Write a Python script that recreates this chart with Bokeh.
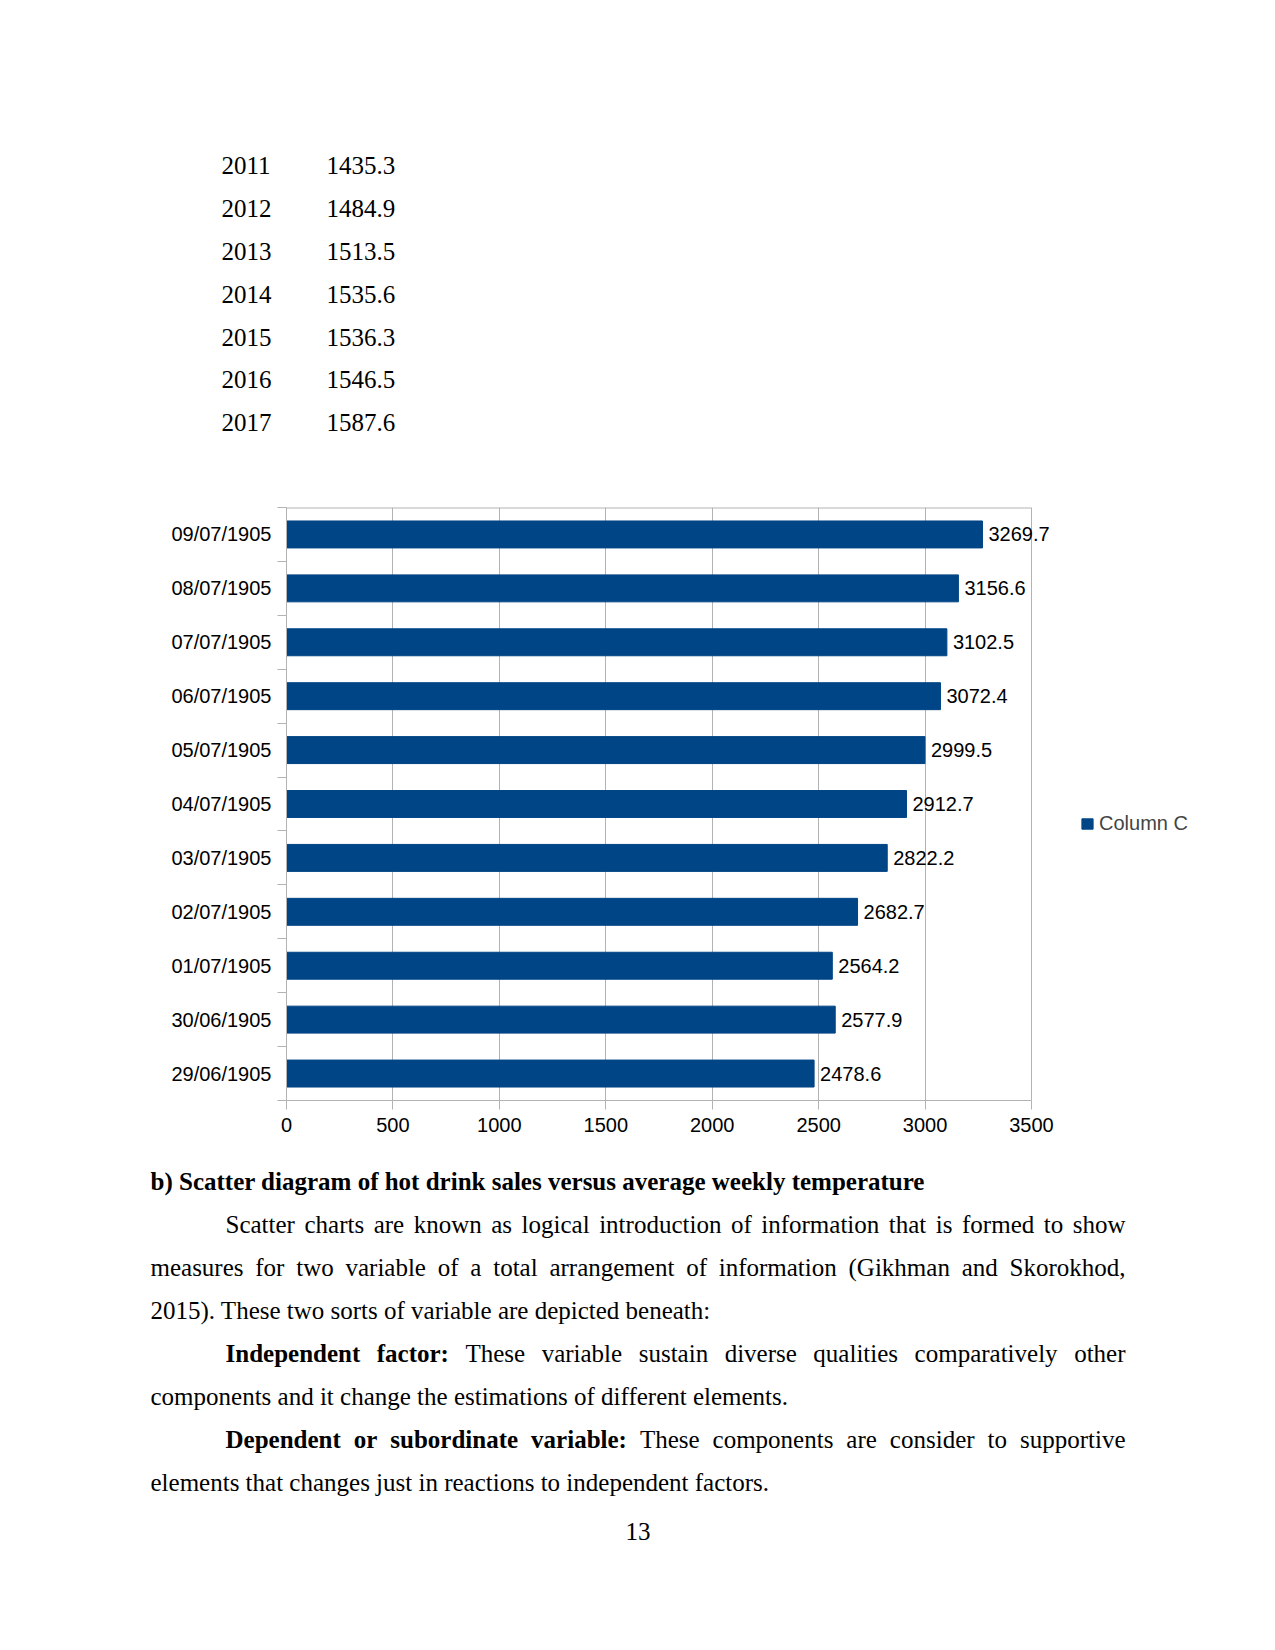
from bokeh.plotting import figure
from bokeh.models import (Range1d, FixedTicker, ColumnDataSource, LabelSet,
                          Legend, LegendItem)
from bokeh.embed import file_html
from bokeh.resources import INLINE
from bokeh.core.properties import value

# ---------------- data ----------------
table_years = ["2011", "2012", "2013", "2014", "2015", "2016", "2017"]
table_values = [1435.3, 1484.9, 1513.5, 1535.6, 1536.3, 1546.5, 1587.6]

dates = ["29/06/1905", "30/06/1905", "01/07/1905", "02/07/1905", "03/07/1905",
         "04/07/1905", "05/07/1905", "06/07/1905", "07/07/1905", "08/07/1905",
         "09/07/1905"]
sales = [2478.6, 2577.9, 2564.2, 2682.7, 2822.2, 2912.7, 2999.5, 3072.4,
         3102.5, 3156.6, 3269.7]
x_ticks = [0, 500, 1000, 1500, 2000, 2500, 3000, 3500]
series_name = "Column C"

heading = "b) Scatter diagram of hot drink sales versus average weekly temperature"
para_lines = [
    # (indent?, justified?, [(text, bold)])
    (True, True, [("Scatter charts are known as logical introduction of information that is formed to show", False)]),
    (False, True, [("measures for two variable of a total arrangement of information (Gikhman and Skorokhod,", False)]),
    (False, False, [("2015). These two sorts of variable are depicted beneath:", False)]),
    (True, True, [("Independent factor:", True), ("These variable sustain diverse qualities comparatively other", False)]),
    (False, False, [("components and it change the estimations of different elements.", False)]),
    (True, True, [("Dependent or subordinate variable:", True), ("These components are consider to supportive", False)]),
    (False, False, [("elements that changes just in reactions to independent factors.", False)]),
]
page_number = "13"

# ---------------- style / layout constants ----------------
BAR = "#004586"
GRID = "#b3b3b3"
SERIF = "Liberation Serif"
SANS = "Liberation Sans"
FS = 25          # body font size (px)
CW = 1259        # canvas width
LEFT, RIGHT, INDENT = 150, 1125, 225
LINE = 43.07

# approximate Times New Roman advance widths (em) for justification
REG_W = dict(zip("abcdefghijklmnopqrstuvwxyz",
                 [.444, .5, .444, .5, .444, .333, .5, .5, .278, .278, .5, .278, .778,
                  .5, .5, .5, .5, .333, .389, .278, .5, .5, .722, .5, .5, .444]))
REG_W.update(dict(zip("ABCDEFGHIJKLMNOPQRSTUVWXYZ",
                      [.722, .667, .667, .722, .611, .556, .722, .722, .333, .389, .722,
                       .611, .889, .722, .722, .556, .722, .667, .556, .611, .722, .722,
                       .944, .722, .722, .611])))
REG_W.update({" ": .25, ",": .25, ".": .25, ":": .278, "(": .333, ")": .333})
BOLD_W = dict(zip("abcdefghijklmnopqrstuvwxyz",
                  [.5, .556, .444, .556, .444, .333, .5, .556, .278, .333, .556, .278, .833,
                   .556, .5, .556, .556, .444, .389, .333, .556, .5, .722, .5, .5, .444]))
BOLD_W.update({"D": .722, "I": .389, " ": .25, ":": .333})


def tw(word, bold):
    tbl = BOLD_W if bold else REG_W
    return sum(tbl.get(c, 0.5) for c in word) * FS


def text_fig(y_top, height):
    f = figure(width=CW, height=height, x_range=Range1d(0, CW),
               y_range=Range1d(y_top + height, y_top), output_backend="svg",
               toolbar_location=None, x_axis_type=None, y_axis_type=None,
               min_border=0, outline_line_color=None)
    f.xgrid.visible = False
    f.ygrid.visible = False
    return f


# ---------------- top: small table ----------------
top = text_fig(8, 452)
row_y = [173.3 + i * 42.8 for i in range(len(table_years))]
top.text(x=[221] * len(table_years), y=row_y, text=table_years,
         text_font=value(SERIF), text_font_size=f"{FS}px", text_color="black",
         text_baseline="alphabetic", text_align="left")
top.text(x=[326] * len(table_values), y=row_y,
         text=[f"{v:.1f}" for v in table_values],
         text_font=value(SERIF), text_font_size=f"{FS}px", text_color="black",
         text_baseline="alphabetic", text_align="left")

# ---------------- middle: bar chart ----------------
n = len(dates)
cats = list(range(n))
FRAME_L, AXIS_R, FRAME_R = 286, 1031, 1200       # page px
CHART_TOP, CHART_H = 452, 690                    # canvas placement on page
FRAME_T, FRAME_B = 507, 1100
x_max = x_ticks[-1]
x_end = x_max * (FRAME_R - FRAME_L) / (AXIS_R - FRAME_L)
p = figure(width=CW, height=CHART_H, x_range=Range1d(0, x_end),
           y_range=Range1d(-0.5, n - 0.5), output_backend="svg",
           toolbar_location=None, min_border_left=FRAME_L,
           min_border_right=CW - FRAME_R,
           min_border_top=FRAME_T - CHART_TOP,
           min_border_bottom=CHART_TOP + CHART_H - FRAME_B)
p.outline_line_color = None
src = ColumnDataSource(dict(y=cats, x=sales, label=[f"{v:.1f}" for v in sales]))
bars = p.hbar(y="y", right="x", left=0, height=0.5, source=src,
              fill_color=BAR, line_color=BAR)

# top border of the plot area
p.segment(x0=[0], y0=[n - 0.5], x1=[x_max], y1=[n - 0.5],
          line_color=GRID, line_width=2)

p.ygrid.visible = False
p.xgrid.ticker = FixedTicker(ticks=x_ticks)
p.xgrid.grid_line_color = GRID

xa = p.xaxis[0]
xa.ticker = FixedTicker(ticks=x_ticks)
xa.bounds = (0, x_max)
xa.axis_line_color = GRID
xa.major_tick_line_color = GRID
xa.major_tick_out = 9
xa.major_tick_in = 0
xa.minor_tick_line_color = None
xa.major_label_text_font = SANS
xa.major_label_text_font_size = "20px"
xa.major_label_text_color = "black"
xa.major_label_standoff = 8

ya = p.yaxis[0]
ya.ticker = FixedTicker(ticks=cats, minor_ticks=[c - 0.5 for c in range(n + 1)])
ya.major_label_overrides = {c: d for c, d in zip(cats, dates)}
ya.axis_line_color = GRID
ya.major_tick_line_color = None
ya.major_tick_out = 0
ya.major_tick_in = 0
ya.minor_tick_line_color = GRID
ya.minor_tick_out = 9
ya.minor_tick_in = 0
ya.major_label_text_font = SANS
ya.major_label_text_font_size = "20px"
ya.major_label_text_color = "black"
ya.major_label_standoff = 6

labels = LabelSet(x="x", y="y", text="label", source=src, x_offset=6,
                  text_baseline="middle", text_align="left",
                  text_font=value(SANS), text_font_size="20px",
                  text_color="black")
p.add_layout(labels)

legend = Legend(items=[LegendItem(label=series_name, renderers=[bars])],
                location=(794, 265), glyph_width=14, glyph_height=13,
                label_standoff=5, padding=0, margin=0, spacing=0,
                border_line_color=None, background_fill_alpha=0,
                label_text_font=SANS, label_text_font_size="20px",
                label_height=13)
p.add_layout(legend)

# ---------------- bottom: body text ----------------
bot = text_fig(1150, 450)
groups = {}


def put(x, y, t, bold, align):
    g = groups.setdefault((bold, align), dict(x=[], y=[], text=[]))
    g["x"].append(x)
    g["y"].append(y)
    g["text"].append(t)


put(LEFT, 1188.5, heading, True, "left")
for i, (indent, justify, parts) in enumerate(para_lines):
    y = 1188.5 + (i + 1) * LINE
    x0 = INDENT if indent else LEFT
    words = [(w, b) for t, b in parts for w in t.split(" ")]
    if not justify:
        x = x0
        for t, b in parts:
            put(x, y, t, b, "left")
            x += tw(t + " ", b)
        continue
    widths = [tw(w, b) for w, b in words]
    gap = (RIGHT - x0 - sum(widths)) / (len(words) - 1)
    x = x0
    for k, ((w, b), wd) in enumerate(zip(words, widths)):
        if k == len(words) - 1:
            put(RIGHT, y, w, b, "right")
        else:
            put(x, y, w, b, "left")
        x += wd + gap

for (bold, align), g in groups.items():
    bot.text(x=g["x"], y=g["y"], text=g["text"], text_font=value(SERIF),
             text_font_size=f"{FS}px", text_color="black",
             text_font_style="bold" if bold else "normal",
             text_baseline="alphabetic", text_align=align)

bot.text(x=[637.5], y=[1539.3], text=[page_number], text_font=value(SERIF),
         text_font_size=f"{FS}px", text_color="black",
         text_baseline="alphabetic", text_align="center")

open("out.html", "w").write(file_html([top, p, bot], INLINE))
